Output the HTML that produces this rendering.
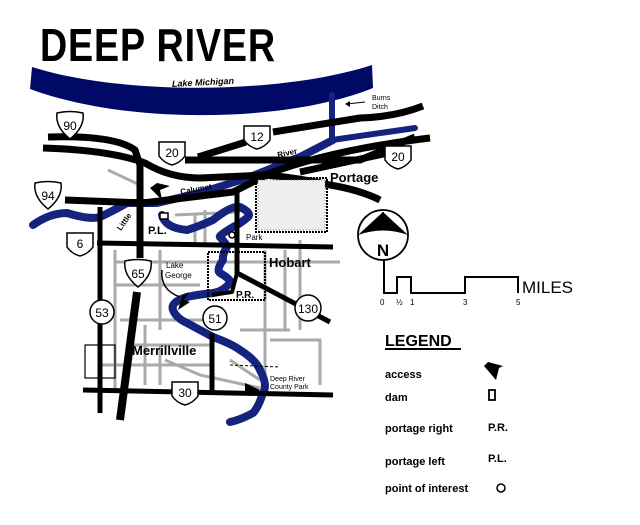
<!DOCTYPE html>
<html><head><meta charset="utf-8"><style>
html,body{margin:0;padding:0;background:#fff;}
svg{display:block;}
text{font-family:"Liberation Sans",Arial,sans-serif;}
</style></head><body>
<svg width="640" height="525" viewBox="0 0 640 525" xmlns="http://www.w3.org/2000/svg">
<rect width="640" height="525" fill="#fff"/>
<!-- title -->
<text x="40" y="61" font-size="46" font-weight="bold" font-family="'Liberation Serif',serif" transform="translate(40 0) scale(0.82 1) translate(-40 0)" letter-spacing="1">DEEP RIVER</text>

<!-- gray local roads -->
<g stroke="#aaa" stroke-width="3" fill="none">
<path d="M108,170 L140,185"/>
<path d="M115,262 L340,262"/>
<path d="M115,285 L200,285"/>
<path d="M120,320 L205,320"/>
<path d="M130,345 L210,345"/>
<path d="M100,365 L210,365"/>
<path d="M115,250 L115,390"/>
<path d="M160,250 L160,330"/>
<path d="M160,345 L160,385"/>
<path d="M195,215 L195,245"/>
<path d="M175,215 L240,212"/>
<path d="M265,250 L265,380"/>
<path d="M285,250 L285,330"/>
<path d="M270,340 L320,340 L320,385"/>
<path d="M240,330 L290,330"/>
<path d="M230,360 L260,380"/>
<path d="M145,325 L145,385"/>
<path d="M300,240 L300,330"/>
<path d="M165,360 L200,375 L260,388"/>
<path d="M205,210 L205,245"/>
</g>

<!-- lake -->
<path d="M32,67 C120,95 280,95 372,65 L373,88 C290,122 130,126 30,89 Z" fill="#000a66"/>
<text x="172" y="86" font-size="9" font-style="italic" font-weight="bold" transform="rotate(-3 190 84)">Lake    Michigan</text>

<!-- rivers -->
<g stroke="#15237e" fill="none" stroke-linecap="round" stroke-linejoin="round">
<path d="M332,95 L332,140 L415,128" stroke-width="6"/>
<path d="M33,225 Q50,213 67,213 Q90,220 100,217 Q115,210 127,203 L157,203 L200,193 L250,177 L300,157 L333,140" stroke-width="8"/>
<path d="M162,215 Q165,228 187,230 Q200,226 213,220 Q232,205 240,207 Q252,213 248,217 Q240,224 233,227 Q218,236 220,237 Q228,246 227,247 Q222,255 223,260 Q216,270 220,273 Q232,280 230,283 Q222,292 213,293 Q195,295 187,297 Q170,302 173,310 Q176,318 187,323 L213,337 Q232,344 240,350 Q256,360 260,370 Q268,385 263,393 Q258,408 253,413 Q240,420 230,422" stroke-width="8"/>
</g>

<!-- roads -->
<g stroke="#000" fill="none" stroke-width="7" stroke-linejoin="round">
<path d="M48,137 Q115,135 135,150 L140,165 L140,258"/>
<path d="M137,292 L120,420" stroke-width="8"/>
<path d="M43,148 Q110,150 145,163 Q170,178 200,178 L265,175 Q300,178 330,185 Q360,190 380,200"/>
<path d="M185,160 L360,160 L415,137"/>
<path d="M265,175 Q330,150 430,138"/>
<path d="M198,157 L246,142"/>
<path d="M273,132 L360,118 Q395,117 423,106"/>
<path d="M300,172 L388,153"/>
<path d="M65,200 L143,203 L233,192 L267,175"/>
<path d="M97,243 L333,247" stroke-width="5"/>
<path d="M100,207 L100,413" stroke-width="5"/>
<path d="M83,390 L333,395" stroke-width="5"/>
<path d="M212,333 L212,392" stroke-width="5"/>
<path d="M237,190 L237,273 L330,322" stroke-width="5"/>
<path d="M237,273 L232,292 L212,295" stroke-width="4"/>
</g>

<!-- parks -->
<rect x="256" y="178" width="71" height="54" fill="none" stroke="#000" stroke-width="2" stroke-dasharray="2 1"/>
<rect x="258" y="180" width="67" height="50" fill="#eee" stroke="#888" stroke-width="1" stroke-dasharray="1 2"/>
<rect x="208" y="252" width="57" height="48" fill="none" stroke="#000" stroke-width="2" stroke-dasharray="2 1"/>
<rect x="85" y="345" width="30" height="33" fill="none" stroke="#000" stroke-width="1.2"/>
<path d="M162,270 Q160,290 180,297" stroke="#000" stroke-width="1.5" fill="none"/>
<path d="M230,365 L280,367" stroke="#000" stroke-width="1" stroke-dasharray="3 2"/>

<!-- shields -->
<g font-size="12" text-anchor="middle" stroke-width="1.5">
<g transform="translate(70,125)"><path d="M-13,-12 Q0,-15 13,-12 Q15,2 0,14 Q-15,2 -13,-12Z" fill="#fff" stroke="#000"/><text y="5" stroke="none">90</text></g>
<g transform="translate(172,153)"><path d="M-13,-11 L13,-11 L13,3 Q8,10 0,12 Q-8,10 -13,3Z" fill="#fff" stroke="#000"/><text y="4" stroke="none">20</text></g>
<g transform="translate(257,137)"><path d="M-13,-11 L13,-11 L13,3 Q8,10 0,12 Q-8,10 -13,3Z" fill="#fff" stroke="#000"/><text y="4" stroke="none">12</text></g>
<g transform="translate(398,157)"><path d="M-13,-11 L13,-11 L13,3 Q8,10 0,12 Q-8,10 -13,3Z" fill="#fff" stroke="#000"/><text y="4" stroke="none">20</text></g>
<g transform="translate(48,195)"><path d="M-13,-12 Q0,-15 13,-12 Q15,2 0,14 Q-15,2 -13,-12Z" fill="#fff" stroke="#000"/><text y="5" stroke="none">94</text></g>
<g transform="translate(80,244)"><path d="M-13,-11 L13,-11 L13,3 Q8,10 0,12 Q-8,10 -13,3Z" fill="#fff" stroke="#000"/><text y="4" stroke="none">6</text></g>
<g transform="translate(138,273)"><path d="M-13,-12 Q0,-15 13,-12 Q15,2 0,14 Q-15,2 -13,-12Z" fill="#fff" stroke="#000"/><text y="5" stroke="none">65</text></g>
<g transform="translate(185,393)"><path d="M-13,-11 L13,-11 L13,3 Q8,10 0,12 Q-8,10 -13,3Z" fill="#fff" stroke="#000"/><text y="4" stroke="none">30</text></g>
<g transform="translate(102,312)"><circle r="12" fill="#fff" stroke="#000"/><text y="5" stroke="none">53</text></g>
<g transform="translate(215,318)"><circle r="12" fill="#fff" stroke="#000"/><text y="5" stroke="none">51</text></g>
<g transform="translate(308,308)"><circle r="13" fill="#fff" stroke="#000"/><text y="5" stroke="none">130</text></g>
</g>

<!-- access arrows / markers -->
<g fill="#000">
<path d="M150,188 L162,200 L160,190 L170,186 L157,183Z"/>
<path d="M178,310 L190,302 L184,300 L189,292 L182,296Z"/>
<path d="M245,383 L260,390 L255,394 L245,392Z"/>
</g>
<rect x="160" y="213" width="8" height="6" fill="#fff" stroke="#000" stroke-width="1.5"/>
<circle cx="232" cy="235" r="3" fill="#fff" stroke="#000" stroke-width="1.5"/>
<path d="M347,104 L365,102" stroke="#000" stroke-width="1"/><path d="M345,104 L350,101 L350,107Z" fill="#000"/>

<!-- labels -->
<text x="372" y="100" font-size="7">Burns</text>
<text x="372" y="109" font-size="7">Ditch</text>
<text x="180" y="192" font-size="8" font-weight="bold" transform="rotate(-10 195 188)">Calumet</text>
<text x="277" y="156" font-size="8" font-weight="bold" transform="rotate(-12 285 152)">River</text>
<text x="113" y="228" font-size="8" font-weight="bold" transform="rotate(-55 120 222)">Little</text>
<text x="148" y="234" font-size="11" font-weight="bold">P.L.</text>
<text x="246" y="240" font-size="8">Park</text>
<text x="166" y="268" font-size="8">Lake</text>
<text x="165" y="278" font-size="8">George</text>
<text x="269" y="267" font-size="13" font-weight="bold">Hobart</text>
<text x="236" y="298" font-size="10" font-weight="bold">P.R.</text>
<text x="132" y="355" font-size="13" font-weight="bold">Merrillville</text>
<text x="270" y="381" font-size="7">Deep River</text>
<text x="270" y="389" font-size="7">County Park</text>
<text x="330" y="182" font-size="13" font-weight="bold">Portage</text>

<!-- compass -->
<circle cx="383" cy="235" r="25" fill="#fff" stroke="#000" stroke-width="1.8"/>
<path d="M383,212 L358,235 Q383,226 408,235Z" fill="#000"/>
<path d="M383,212 L383,230" stroke="#000" stroke-width="1.5"/>
<text x="383" y="256" font-size="17" font-weight="bold" text-anchor="middle">N</text>
<!-- scale -->
<path d="M384,260 L384,293 L397,293 L397,277 L411,277 L411,293 L465,293 L465,277 L518,277 L518,293" fill="none" stroke="#000" stroke-width="2"/>
<text x="522" y="293" font-size="17">MILES</text>
<g font-size="8"><text x="380" y="305">0</text><text x="396" y="305">½</text><text x="410" y="305">1</text><text x="463" y="305">3</text><text x="516" y="305">5</text></g>

<!-- legend -->
<text x="385" y="346" font-size="16" font-weight="bold">LEGEND</text>
<rect x="385" y="348" width="76" height="2" fill="#000"/>
<g font-size="11" font-weight="bold">
<text x="385" y="378">access</text>
<text x="385" y="401">dam</text>
<text x="385" y="432">portage right</text>
<text x="488" y="431">P.R.</text>
<text x="385" y="465">portage left</text>
<text x="488" y="462">P.L.</text>
<text x="385" y="492">point of interest</text>
</g>
<path d="M484,366 L496,380 L499,368 L503,366 L488,362Z" fill="#000"/>
<rect x="489" y="390" width="6" height="10" fill="#fff" stroke="#000" stroke-width="1.8"/>
<circle cx="501" cy="488" r="4" fill="none" stroke="#000" stroke-width="1.5"/>
</svg>
</body></html>
